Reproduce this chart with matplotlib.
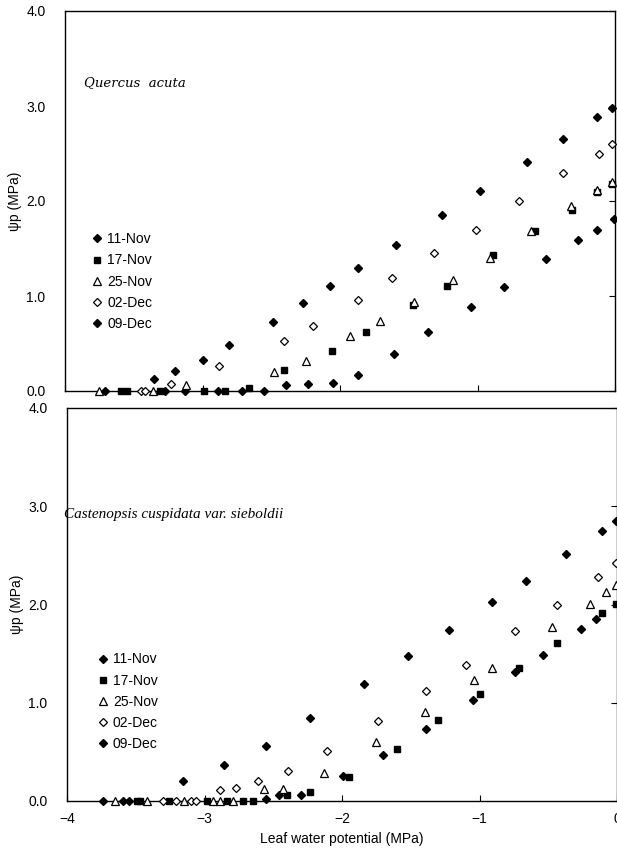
import matplotlib
matplotlib.use("Agg")
import matplotlib.pyplot as plt
from matplotlib.ticker import FixedLocator, FuncFormatter

plt.rcParams['font.family'] = ['Liberation Sans', 'DejaVu Sans']

labels = ["11-Nov", "17-Nov", "25-Nov", "02-Dec", "09-Dec"]

# ---- Top panel: Quercus acuta ----
qa_11nov_x = [-3.13, -2.89, -2.71, -2.55, -2.39, -2.23, -2.05, -1.87, -1.61, -1.36, -1.05, -0.81, -0.50, -0.27, -0.13, -0.01]
qa_11nov_y = [0.0, 0.0, 0.0, 0.0, 0.06, 0.07, 0.08, 0.17, 0.39, 0.62, 0.88, 1.10, 1.39, 1.59, 1.69, 1.81]
qa_17nov_x = [-3.59, -3.55, -3.31, -2.99, -2.84, -2.66, -2.41, -2.06, -1.81, -1.47, -1.22, -0.89, -0.58, -0.31, -0.13, -0.02]
qa_17nov_y = [0.0, 0.0, 0.0, 0.0, 0.0, 0.03, 0.22, 0.42, 0.62, 0.91, 1.11, 1.43, 1.68, 1.91, 2.09, 2.18]
qa_25nov_x = [-3.75, -3.36, -3.12, -2.48, -2.25, -1.93, -1.71, -1.46, -1.18, -0.91, -0.61, -0.32, -0.13, -0.02]
qa_25nov_y = [0.0, 0.0, 0.06, 0.20, 0.32, 0.58, 0.74, 0.94, 1.17, 1.40, 1.68, 1.95, 2.12, 2.20]
qa_02dec_x = [-3.45, -3.42, -3.23, -2.88, -2.41, -2.20, -1.87, -1.62, -1.32, -1.01, -0.70, -0.38, -0.12, -0.02]
qa_02dec_y = [0.0, 0.0, 0.07, 0.26, 0.53, 0.68, 0.96, 1.19, 1.45, 1.70, 2.00, 2.29, 2.49, 2.60]
qa_09dec_x = [-3.71, -3.27, -3.35, -3.20, -3.00, -2.81, -2.49, -2.27, -2.07, -1.87, -1.59, -1.26, -0.98, -0.64, -0.38, -0.13, -0.02]
qa_09dec_y = [0.0, 0.0, 0.13, 0.21, 0.33, 0.48, 0.73, 0.93, 1.11, 1.29, 1.54, 1.85, 2.11, 2.41, 2.65, 2.88, 2.98]

# ---- Bottom panel: Castanopsis cuspidata var. sieboldii ----
cc_11nov_x = [-3.55, -2.55, -2.46, -2.30, -1.99, -1.70, -1.39, -1.05, -0.74, -0.54, -0.26, -0.15]
cc_11nov_y = [0.0, 0.02, 0.06, 0.06, 0.25, 0.47, 0.73, 1.03, 1.31, 1.49, 1.75, 1.85]
cc_17nov_x = [-3.49, -3.47, -3.26, -2.98, -2.84, -2.72, -2.65, -2.40, -2.23, -1.95, -1.60, -1.30, -1.00, -0.71, -0.44, -0.11, -0.01]
cc_17nov_y = [0.0, 0.0, 0.0, 0.0, 0.0, 0.0, 0.0, 0.06, 0.09, 0.24, 0.53, 0.82, 1.09, 1.35, 1.61, 1.91, 2.01]
cc_25nov_x = [-3.65, -3.42, -3.15, -2.94, -2.89, -2.79, -2.57, -2.43, -2.13, -1.75, -1.40, -1.04, -0.91, -0.47, -0.20, -0.08, -0.01]
cc_25nov_y = [0.0, 0.0, 0.0, 0.0, 0.0, 0.0, 0.12, 0.12, 0.29, 0.60, 0.91, 1.23, 1.35, 1.77, 2.01, 2.13, 2.20]
cc_02dec_x = [-3.30, -3.21, -3.10, -3.06, -2.89, -2.77, -2.61, -2.39, -2.11, -1.74, -1.39, -1.10, -0.74, -0.44, -0.14, -0.01]
cc_02dec_y = [0.0, 0.0, 0.0, 0.0, 0.11, 0.13, 0.20, 0.31, 0.51, 0.81, 1.12, 1.38, 1.73, 1.99, 2.28, 2.42]
cc_09dec_x = [-3.74, -3.59, -3.16, -2.86, -2.55, -2.23, -1.84, -1.52, -1.22, -0.91, -0.66, -0.37, -0.11, -0.01]
cc_09dec_y = [0.0, 0.0, 0.20, 0.37, 0.56, 0.84, 1.19, 1.48, 1.74, 2.03, 2.24, 2.51, 2.75, 2.85]

x_ticks = [-4, -3, -2, -1, 0]
y_ticks = [0.0, 1.0, 2.0, 3.0, 4.0]

styles = [
    dict(marker='D', color='black', mfc='black', ms=4.5),
    dict(marker='s', color='black', mfc='black', ms=5),
    dict(marker='^', color='black', mfc='white', ms=5.5, mew=0.9),
    dict(marker='D', color='black', mfc='white', ms=4.5, mew=0.9),
    dict(marker='D', color='black', mfc='black', ms=4.5),
]

fig = plt.figure(figsize=(6.17, 8.56), dpi=100)
ax1 = fig.add_axes([65/617, 1-391/856, 550/617, 380/856])
ax2 = fig.add_axes([67/617, 1-801/856, 550/617, 393/856])

top_series = [(qa_11nov_x, qa_11nov_y), (qa_17nov_x, qa_17nov_y), (qa_25nov_x, qa_25nov_y),
              (qa_02dec_x, qa_02dec_y), (qa_09dec_x, qa_09dec_y)]
bot_series = [(cc_11nov_x, cc_11nov_y), (cc_17nov_x, cc_17nov_y), (cc_25nov_x, cc_25nov_y),
              (cc_02dec_x, cc_02dec_y), (cc_09dec_x, cc_09dec_y)]

for ax, series in ((ax1, top_series), (ax2, bot_series)):
    for (xs, ys), lab, st in zip(series, labels, styles):
        ax.plot(xs, ys, linestyle='none', label=lab, clip_on=False, zorder=3, **st)
    ax.set_xlim(-4, 0)
    ax.set_ylim(0, 4)
    ax.xaxis.set_major_locator(FixedLocator(x_ticks))
    ax.yaxis.set_major_locator(FixedLocator(y_ticks))
    ax.yaxis.set_major_formatter(FuncFormatter(lambda v, p: f"{v:.1f}"))
    ax.xaxis.set_major_formatter(FuncFormatter(lambda v, p: "0" if v == 0 else f"\u2212{abs(int(v))}"))
    ax.tick_params(direction='in', length=4, width=0.8, labelsize=10, right=True, top=False, pad=8)
    ax.tick_params(axis='y', left=False, pad=14)
    for sp in ax.spines.values():
        sp.set_linewidth(1.0)
    ax.set_ylabel("\u03c8p (MPa)", fontsize=10, labelpad=3)

ax1.tick_params(axis='x', labelbottom=False)
ax2.set_xlabel("Leaf water potential (MPa)", fontsize=10, labelpad=4)

ax1.text(0.035, 0.812, "Quercus  acuta", transform=ax1.transAxes, fontsize=9.5,
         fontstyle='italic', family=['DejaVu Serif'], va='center', ha='left')
ax2.text(-0.005, 0.728, "Castenopsis cuspidata var. sieboldii", transform=ax2.transAxes,
         fontsize=11, fontstyle='italic', family=['Liberation Serif'], va='center', ha='left')

leg_kw = dict(frameon=False, fontsize=10, handlelength=0.7, handletextpad=0.35,
              labelspacing=0.52, borderpad=0, borderaxespad=0, loc='upper left', numpoints=1)
ax1.legend(bbox_to_anchor=(0.05, 0.418), **leg_kw)
ax2.legend(bbox_to_anchor=(0.057, 0.378), **leg_kw)

fig.savefig("out.png", dpi=100)
